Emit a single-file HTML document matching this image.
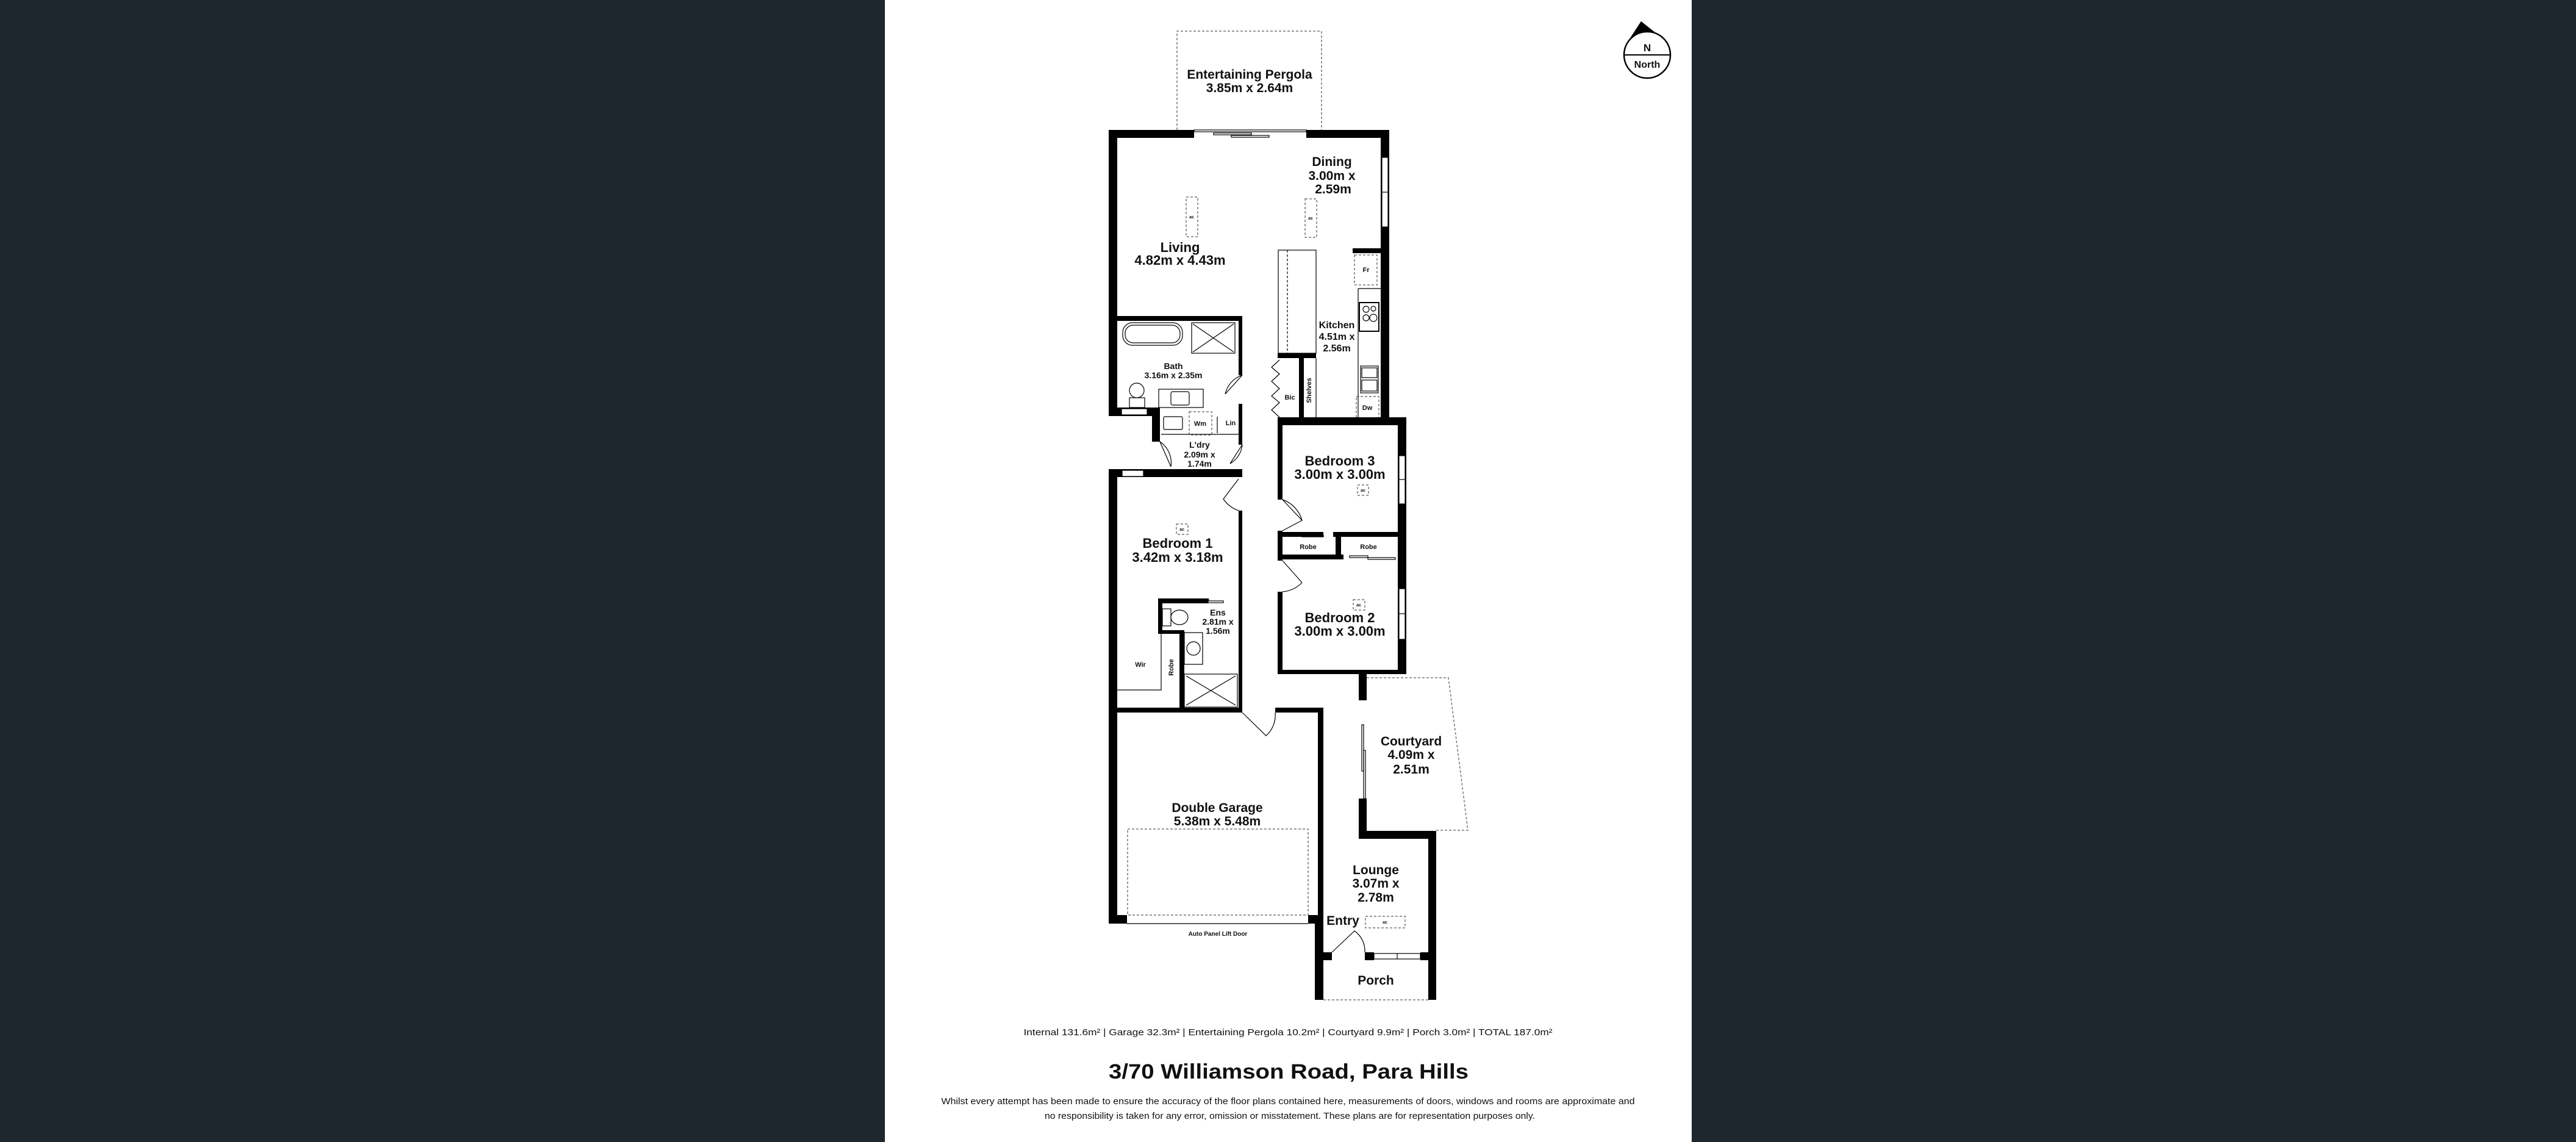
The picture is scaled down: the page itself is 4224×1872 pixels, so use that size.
<!DOCTYPE html>
<html><head><meta charset="utf-8"><style>
html,body{margin:0;padding:0;background:#1f272e;}
svg{display:block;}
text{font-family:"Liberation Sans",sans-serif;font-weight:bold;fill:#111;text-anchor:middle;}
</style></head><body>
<svg width="4224" height="1872" viewBox="0 0 4224 1872" xmlns="http://www.w3.org/2000/svg">
<rect x="0" y="0" width="4224" height="1872" fill="#1f272e"/>
<rect x="1451" y="0" width="1323" height="1872" fill="#fff"/>

<!-- dashed outdoor areas -->
<g fill="none" stroke="#777" stroke-width="1.5" stroke-dasharray="4,3">
<polyline points="1930,213 1930,51 2167,51 2167,213"/>
<polyline points="2241,1111 2375,1111 2407,1361 2355,1361"/>
<line x1="2170" y1="1639" x2="2342" y2="1639"/>
<rect x="1849" y="1359" width="296" height="141"/>
<rect x="1945" y="323" width="19" height="65"/>
<rect x="2140" y="326" width="19" height="63"/>
<rect x="2221" y="418" width="37" height="49"/>
<rect x="2224" y="650" width="37" height="36"/>
<rect x="1950" y="675" width="37" height="38"/>
<rect x="1929" y="859" width="19" height="17"/>
<rect x="2226" y="795" width="18" height="17"/>
<rect x="2219" y="983" width="19" height="17"/>
<rect x="2239" y="1502" width="65" height="19"/>
</g>

<!-- walls -->
<g fill="#000">
<rect x="1818" y="213" width="140" height="13"/>
<rect x="2142" y="213" width="136" height="13"/>
<rect x="1818" y="213" width="14" height="469"/>
<rect x="2264" y="213" width="14" height="477"/>
<rect x="2218" y="407" width="46" height="8"/>
<rect x="1818" y="518" width="219" height="8"/>
<rect x="2031" y="518" width="6" height="97"/>
<rect x="2031" y="662" width="6" height="67"/>
<rect x="1818" y="668" width="77" height="14"/>
<rect x="1889" y="668" width="13" height="56"/>
<rect x="2095" y="579" width="63" height="8"/>
<rect x="2130" y="587" width="8" height="104"/>
<rect x="2095" y="684" width="211" height="13"/>
<rect x="2031" y="769" width="6" height="13"/>
<rect x="1818" y="769" width="219" height="13"/>
<rect x="1818" y="769" width="14" height="745"/>
<rect x="2031" y="837" width="6" height="331"/>
<rect x="1899" y="981" width="82" height="8"/>
<rect x="1899" y="981" width="7" height="58"/>
<rect x="1899" y="1033" width="43" height="6"/>
<rect x="1934" y="1033" width="8" height="128"/>
<rect x="1818" y="1160" width="219" height="8"/>
<rect x="2091" y="1160" width="79" height="8"/>
<rect x="2161" y="1160" width="9" height="354"/>
<rect x="1818" y="1500" width="30" height="14"/>
<rect x="2145" y="1500" width="25" height="14"/>
<rect x="2156" y="1500" width="14" height="139"/>
<rect x="2095" y="684" width="8" height="135"/>
<rect x="2095" y="870" width="8" height="49"/>
<rect x="2095" y="970" width="8" height="135"/>
<rect x="2292" y="684" width="14" height="421"/>
<rect x="2095" y="1098" width="211" height="7"/>
<rect x="2095" y="872" width="75" height="8"/>
<rect x="2186" y="872" width="120" height="8"/>
<rect x="2190" y="872" width="9" height="45"/>
<rect x="2095" y="909" width="108" height="8"/>
<rect x="2228" y="1098" width="13" height="50"/>
<rect x="2228" y="1309" width="13" height="66"/>
<rect x="2228" y="1362" width="127" height="13"/>
<rect x="2342" y="1362" width="13" height="277"/>
<rect x="2170" y="1561" width="14" height="13"/>
<rect x="2238" y="1561" width="15" height="13"/>
<rect x="2329" y="1561" width="13" height="13"/>
</g>

<!-- windows -->
<g fill="#fff" stroke="#000" stroke-width="1.2">
<rect x="2266" y="258" width="10" height="114"/>
<rect x="2294" y="747" width="10" height="79"/>
<rect x="2294" y="965" width="10" height="83"/>
<rect x="1839" y="670" width="42" height="10"/>
<rect x="1840" y="771" width="35" height="10"/>
<rect x="2253" y="1563" width="76" height="9"/>
</g>
<g stroke="#000" stroke-width="1.2" fill="none">
<line x1="2266" y1="315" x2="2276" y2="315"/>
<line x1="2294" y1="786" x2="2304" y2="786"/>
<line x1="2294" y1="1006" x2="2304" y2="1006"/>
<line x1="2291" y1="1563" x2="2291" y2="1572"/>
<!-- sliding doors -->
<rect x="1958" y="213" width="184" height="3"/>
<rect x="1990" y="218" width="62" height="3"/>
<rect x="2019" y="222" width="62" height="3"/>
<rect x="2233" y="1188" width="3" height="76"/>
<rect x="2236" y="1230" width="3" height="79"/>
<rect x="2105" y="874" width="40" height="3"/>
<rect x="2135" y="877" width="35" height="3"/>
<rect x="2213" y="911" width="30" height="3"/>
<rect x="2243" y="914" width="45" height="3"/>
<rect x="1955" y="982" width="27" height="3"/>
<rect x="1981" y="985" width="25" height="3"/>
<!-- island & kitchen -->
<rect x="2096" y="410" width="62" height="169"/>
<line x1="2111" y1="410" x2="2111" y2="579" stroke-dasharray="4,3"/>
<line x1="2158" y1="587" x2="2158" y2="691"/>
<line x1="2227" y1="473" x2="2227" y2="684"/>
<line x1="2227" y1="473" x2="2264" y2="473"/>
<rect x="2229" y="496" width="32" height="47" stroke-width="2"/>
<circle cx="2240" cy="507" r="5"/><circle cx="2252" cy="506" r="4"/>
<circle cx="2240" cy="521" r="5"/><circle cx="2252" cy="521" r="6"/>
<rect x="2231" y="600" width="29" height="44"/>
<rect x="2233" y="603" width="25" height="16"/>
<rect x="2233" y="623" width="25" height="18"/>
<!-- bath -->
<rect x="1841" y="529" width="98" height="37" rx="16"/>
<rect x="1845" y="533" width="90" height="29" rx="13"/>
<rect x="1954" y="529" width="71" height="50"/>
<line x1="1956" y1="531" x2="2023" y2="577"/><line x1="2023" y1="531" x2="1956" y2="577"/>
<circle cx="1864" cy="640" r="12"/>
<rect x="1852" y="652" width="25" height="16"/>
<rect x="1900" y="638" width="73" height="30"/>
<rect x="1920" y="642" width="30" height="22" rx="3"/>
<!-- laundry -->
<rect x="1908" y="683" width="31" height="21" rx="2"/>
<line x1="1996" y1="683" x2="1996" y2="710"/>
<line x1="1904" y1="712" x2="2031" y2="712"/>
<!-- ensuite -->
<rect x="1906" y="998" width="14" height="28"/>
<ellipse cx="1934" cy="1012" rx="14" ry="12"/>
<rect x="1942" y="1037" width="30" height="52"/>
<circle cx="1957" cy="1063" r="11"/>
<rect x="1942" y="1105" width="87" height="54"/>
<line x1="1945" y1="1108" x2="2026" y2="1156"/><line x1="2026" y1="1108" x2="1945" y2="1156"/>
<polyline points="1832,1131 1904,1131 1904,1039"/>
<!-- garage door line -->
<line x1="1848" y1="1514" x2="2145" y2="1514"/>
<!-- door swings -->
<path d="M2037,615 L2009,646 M2009,646 A42,42 0 0 1 2037,615"/>
<path d="M2037,729 L2017,760 M2037,729 A40,40 0 0 1 2017,760"/>
<path d="M1902,724 L1920,765 M1902,724 A42,42 0 0 1 1920,765"/>
<path d="M2031,785 L2006,818 A50,50 0 0 0 2031,837"/>
<path d="M2103,819 L2135,853 L2103,870 M2103,819 A50,50 0 0 1 2135,853"/>
<path d="M2103,919 L2135,955 M2103,970 A50,50 0 0 0 2135,955"/>
<path d="M2037,1168 L2076,1206 A45,45 0 0 0 2091,1168"/>
<path d="M2184,1561 L2221,1526 A40,40 0 0 1 2238,1561"/>
<path d="M2098,590 L2085,602 L2098,613 L2085,625 L2098,637 L2085,649 L2098,660 L2085,672 L2098,684"/>
</g>

<!-- compass -->
<g>
<path d="M2691,35 L2672,64 A38,38 0 0 1 2720,58 Z" fill="#000"/>
<circle cx="2701" cy="90" r="38" fill="#fff" stroke="#000" stroke-width="2.5"/>
<path d="M2691,35 L2672,64 A38,38 0 0 1 2720,58 Z" fill="#000"/>
<line x1="2663" y1="90" x2="2739" y2="90" stroke="#000" stroke-width="2"/>
<text x="2701" y="84" font-size="17">N</text>
<text x="2701" y="111" font-size="16">North</text>
</g>

<!-- room labels -->
<g font-size="21">
<text x="2049" y="129">Entertaining Pergola</text>
<text x="2049" y="151">3.85m x 2.64m</text>
<text x="2184" y="272">Dining</text>
<text x="2184" y="295">3.00m x</text>
<text x="2186" y="317">2.59m</text>
<text x="1935" y="413" font-size="22">Living</text>
<text x="1935" y="434" font-size="22">4.82m x 4.43m</text>
<text x="2197" y="763" font-size="22">Bedroom 3</text>
<text x="2197" y="785" font-size="22">3.00m x 3.00m</text>
<text x="2197" y="1020" font-size="22">Bedroom 2</text>
<text x="2197" y="1042" font-size="22">3.00m x 3.00m</text>
<text x="1931" y="898" font-size="22">Bedroom 1</text>
<text x="1931" y="921" font-size="22">3.42m x 3.18m</text>
<text x="1996" y="1331">Double Garage</text>
<text x="1996" y="1353">5.38m x 5.48m</text>
<text x="2314" y="1222">Courtyard</text>
<text x="2314" y="1244">4.09m x</text>
<text x="2314" y="1268">2.51m</text>
<text x="2256" y="1433">Lounge</text>
<text x="2256" y="1455">3.07m x</text>
<text x="2256" y="1478">2.78m</text>
<text x="2202" y="1516">Entry</text>
<text x="2256" y="1614">Porch</text>
</g>
<g font-size="16">
<text x="2192" y="538">Kitchen</text>
<text x="2192" y="557">4.51m x</text>
<text x="2192" y="576">2.56m</text>
</g>
<g font-size="14">
<text x="1924" y="605">Bath</text>
<text x="1924" y="620">3.16m x 2.35m</text>
<text x="1967" y="734">L'dry</text>
<text x="1967" y="750">2.09m x</text>
<text x="1967" y="765">1.74m</text>
<text x="1997" y="1009">Ens</text>
<text x="1997" y="1024">2.81m x</text>
<text x="1997" y="1039">1.56m</text>
</g>
<g font-size="11">
<text x="2240" y="446">Fr</text>
<text x="2242" y="672">Dw</text>
<text x="1968" y="698">Wm</text>
<text x="2018" y="697">Lin</text>
<text x="2115" y="655">Bic</text>
<text x="2145" y="900">Robe</text>
<text x="2244" y="900">Robe</text>
<text x="1870" y="1093">Wir</text>
<text x="1997" y="1534" font-size="10">Auto Panel Lift Door</text>
<text transform="translate(2150,640) rotate(-90)">Shelves</text>
<text transform="translate(1924,1094) rotate(-90)">Robe</text>
</g>
<g font-size="7">
<text x="1954" y="358">ac</text><text x="2149" y="360">ac</text>
<text x="1938" y="870">ac</text><text x="2235" y="806">ac</text>
<text x="2228" y="994">ac</text><text x="2271" y="1514">ac</text>
</g>

<!-- footer -->
<text x="2112" y="1697" font-size="15" textLength="867" lengthAdjust="spacingAndGlyphs" style="font-weight:normal">Internal 131.6m² | Garage 32.3m² | Entertaining Pergola 10.2m² | Courtyard 9.9m² | Porch 3.0m² | TOTAL 187.0m²</text>
<text x="2113" y="1768" font-size="34" textLength="590" lengthAdjust="spacingAndGlyphs">3/70 Williamson Road, Para Hills</text>
<text x="2112" y="1810" font-size="15" textLength="1137" lengthAdjust="spacingAndGlyphs" style="font-weight:normal">Whilst every attempt has been made to ensure the accuracy of the floor plans contained here, measurements of doors, windows and rooms are approximate and</text>
<text x="2115" y="1834" font-size="15" textLength="804" lengthAdjust="spacingAndGlyphs" style="font-weight:normal">no responsibility is taken for any error, omission or misstatement. These plans are for representation purposes only.</text>
</svg>
</body></html>
